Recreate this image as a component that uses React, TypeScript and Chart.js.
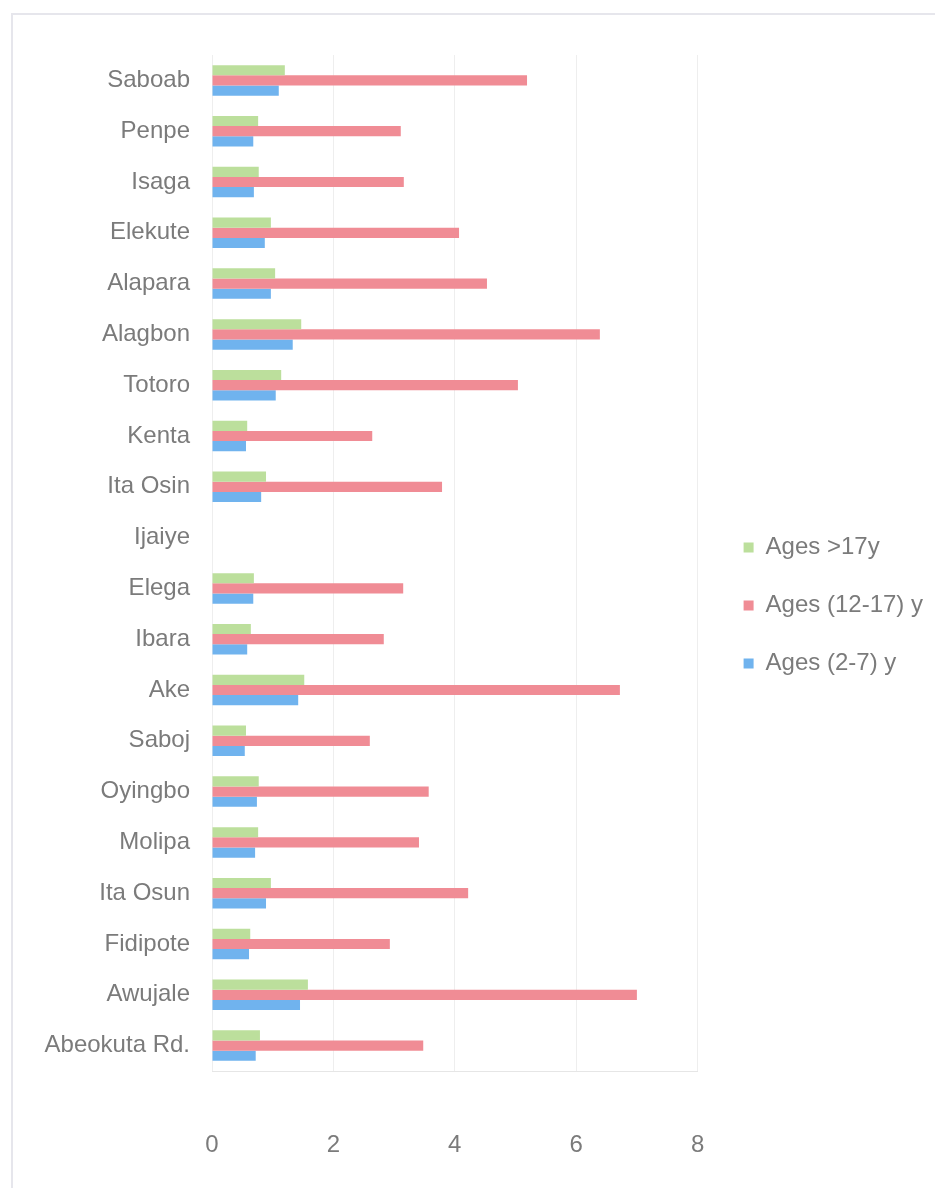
import React, { useEffect, useRef } from "react";
import { Chart, registerables } from "chart.js";

Chart.register(...registerables);

const categories = [
  "Saboab", "Penpe", "Isaga", "Elekute", "Alapara", "Alagbon", "Totoro", "Kenta", "Ita Osin", "Ijaiye",
  "Elega", "Ibara", "Ake", "Saboj", "Oyingbo", "Molipa", "Ita Osun", "Fidipote", "Awujale", "Abeokuta Rd.",
];
const agesOver17 = [1.2, 0.76, 0.77, 0.97, 1.04, 1.47, 1.14, 0.58, 0.89, 0, 0.69, 0.64, 1.52, 0.56, 0.77, 0.76, 0.97, 0.63, 1.58, 0.79];
const ages12to17 = [5.19, 3.11, 3.16, 4.07, 4.53, 6.39, 5.04, 2.64, 3.79, 0, 3.15, 2.83, 6.72, 2.6, 3.57, 3.41, 4.22, 2.93, 7.0, 3.48];
const ages2to7 = [1.1, 0.68, 0.69, 0.87, 0.97, 1.33, 1.05, 0.56, 0.81, 0, 0.68, 0.58, 1.42, 0.54, 0.74, 0.71, 0.89, 0.61, 1.45, 0.72];
const seriesLabels = ["Ages >17y", "Ages (12-17) y", "Ages (2-7) y"];
const xTicks = [0, 2, 4, 6, 8];

const FONT = "'Liberation Sans', Arial, sans-serif";
const TEXT = "#7b7b7b";

const legendShift = {
  id: "legendShift",
  afterLayout(chart: any) {
    if (chart.legend) {
      chart.legend.left += 12;
      chart.legend.right += 12;
      chart.legend.top -= 10;
      chart.legend.bottom -= 10;
    }
  },
};

export default function App() {
  const ref = useRef<HTMLCanvasElement | null>(null);
  useEffect(() => {
    document.body.style.margin = "0";
    const chart = new Chart(ref.current!, {
      type: "bar",
      data: {
        labels: categories,
        datasets: [
          { label: seriesLabels[0], data: agesOver17, backgroundColor: "#bcdf9c" },
          { label: seriesLabels[1], data: ages12to17, backgroundColor: "#f08c95" },
          { label: seriesLabels[2], data: ages2to7, backgroundColor: "#70b3ee" },
        ],
      },
      plugins: [legendShift],
      options: {
        indexAxis: "y",
        responsive: false,
        animation: false,
        maintainAspectRatio: false,
        layout: { padding: { top: 55, left: 10, right: 14, bottom: 12 } },
        datasets: { bar: { categoryPercentage: 0.6, barPercentage: 1.0 } },
        plugins: {
          tooltip: { enabled: false },
          legend: {
            position: "right",
            labels: {
              boxWidth: 10,
              boxHeight: 10,
              padding: 34,
              color: TEXT,
              font: { family: FONT, size: 24 },
            },
          },
        },
        scales: {
          x: {
            min: 0,
            max: 8,
            afterBuildTicks: (s: any) => { s.ticks = xTicks.map((v) => ({ value: v })); },
            afterFit: (s: any) => { s.height = 105; },
            grid: { color: "#eeeeee", drawTicks: false },
            border: { color: "#e6e6e6" },
            ticks: { color: TEXT, padding: 60, font: { family: FONT, size: 24 } },
          },
          y: {
            grid: { display: false, drawTicks: false },
            border: { display: false },
            afterFit: (s: any) => { s.width = 202; },
            ticks: { color: TEXT, padding: 22, font: { family: FONT, size: 24 } },
          },
        },
      },
    });
    return () => chart.destroy();
  }, []);
  return (
    <div style={{ position: "absolute", left: 0, top: 0, width: 935, height: 1188, background: "#fff", overflow: "hidden" }}>
      <div style={{ position: "absolute", left: 11, top: 13, width: 940, height: 1200, borderLeft: "2px solid #e6e6ec", borderTop: "2px solid #e6e6ec" }} />
      <canvas ref={ref} width={935} height={1188} style={{ position: "absolute", left: 0, top: 0 }} />
    </div>
  );
}
